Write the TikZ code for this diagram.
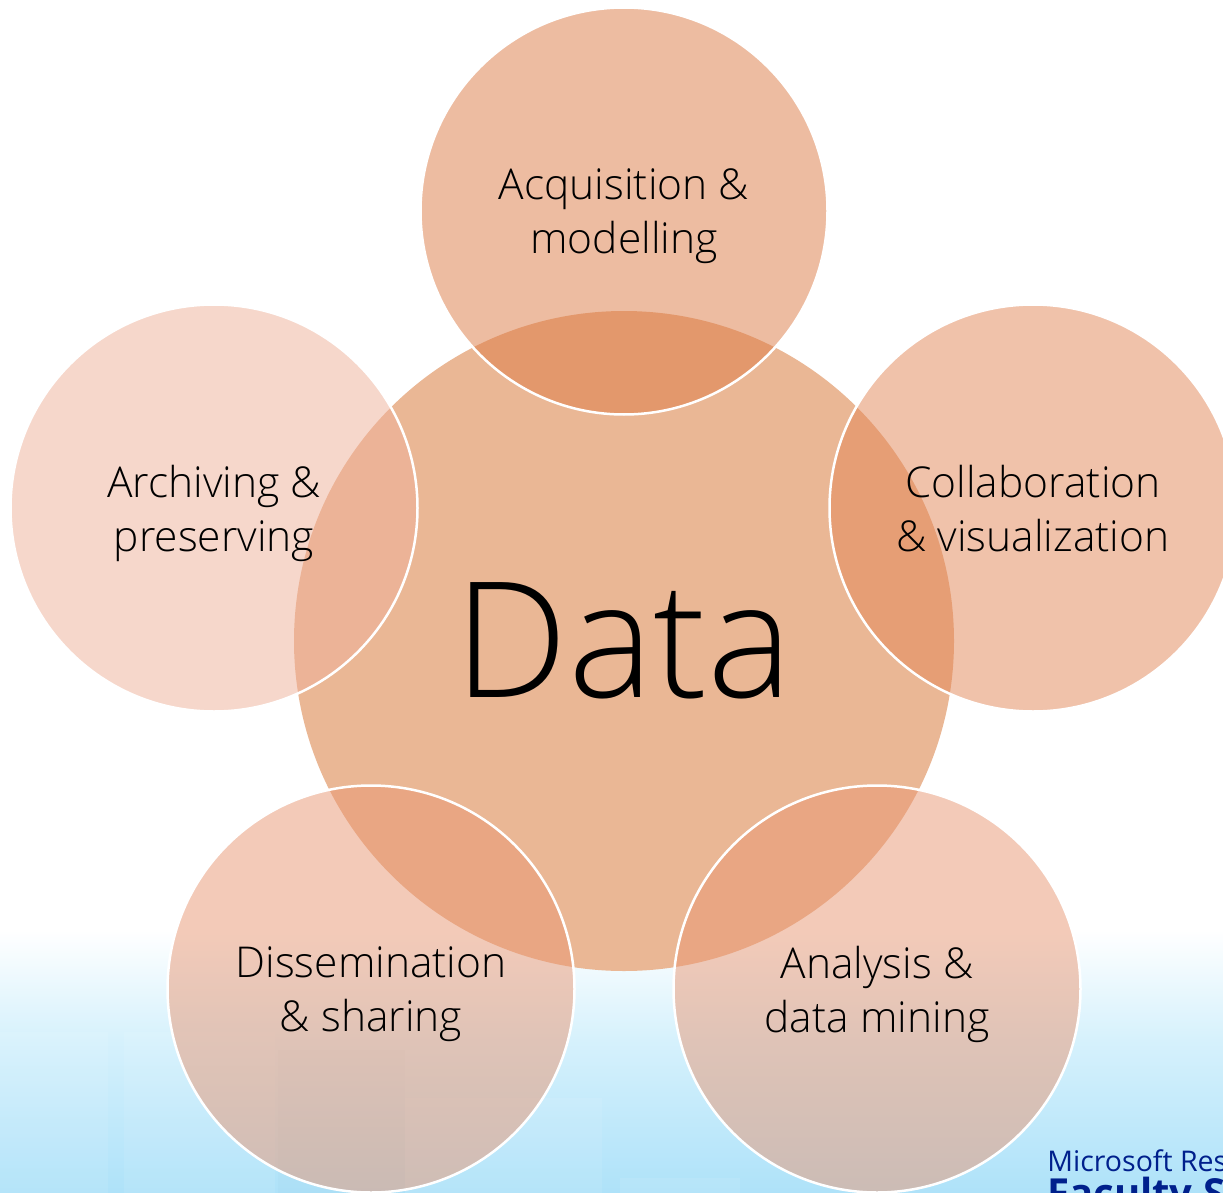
\documentclass[tikz,border=0pt]{standalone}
\usepackage{fontspec}
\setmainfont{Open Sans Light}
\newfontfamily\logofont{Open Sans}
\definecolor{hubfill}{HTML}{EAB795}
\definecolor{acqfill}{RGB}{221,123,69}
\definecolor{colfill}{RGB}{227,135,87}
\definecolor{anafill}{RGB}{233,151,115}
\definecolor{disfill}{RGB}{233,151,115}
\definecolor{arcfill}{RGB}{239,177,153}
\definecolor{logoblue}{HTML}{00208C}
\definecolor{skymid}{HTML}{D6F1FC}
\definecolor{skylow}{HTML}{AEE2F9}
\tikzset{every picture/.style={line width=0.75pt}}
\tikzset{
	petal/.style={circle,draw=white,line width=2.5pt,fill opacity=.5,draw opacity=1,minimum size=407pt,inner sep=0pt,outer sep=0pt},
	petaltext/.style={yshift=-5.5pt,inner sep=0pt,align=center,font=\fontsize{42.5}{54}\selectfont},
	hub/.style={circle,fill=hubfill,minimum size=660pt,inner sep=0pt,outer sep=0pt,font=\fontsize{161}{161}\selectfont},
	tile/.style={fill=white,fill opacity=.08},
	logotext/.style={anchor=base west,inner sep=0pt,text=logoblue,font=\logofont\fontsize{28.5}{30}\selectfont}
}

\begin{document}
\begin{tikzpicture}[x=1pt,y=-1pt,yscale=1,xscale=1]
	\clip (0,0) rectangle (1223,1193);
	\fill[white] (0,0) rectangle (1223,930);
	\shade[top color=white,bottom color=skymid] (0,930) rectangle (1223,1040); %upper sky
	\shade[top color=skymid,bottom color=skylow] (0,1040) rectangle (1223,1193); %lower sky
	\fill[tile] (0,1032) rectangle (108,1193); %faint tiles
	\fill[tile] (124,1032) rectangle (275,1193);
	\fill[black,opacity=.01] (278,1050) rectangle (405,1193);
	\fill[tile] (405,1098) rectangle (602,1193);
	\fill[tile] (620,1178) rectangle (740,1193);
	\node[hub] (data) at (624,641) {Data}; %centre
	\node[petal,fill=acqfill] (acquisition) at (624,211) {};
	\node[petal,fill=colfill] (collaboration) at (1033,508) {};
	\node[petal,fill=anafill] (analysis) at (877,989) {};
	\node[petal,fill=disfill] (dissemination) at (371,989) {};
	\node[petal,fill=arcfill] (archiving) at (214,508) {};
	\node[petaltext] (acquisitiontext) at (acquisition) {Acquisition \&\\modelling}; %labels
	\node[petaltext] (collaborationtext) at (collaboration) {Collaboration\\\& visualization\vphantom{g}};
	\node[petaltext] (analysistext) at (analysis) {Analysis \&\\data mining};
	\node[petaltext] (disseminationtext) at (dissemination) {Dissemination\\\& sharing};
	\node[petaltext] (archivingtext) at (archiving) {Archiving \&\\preserving};
	\node[logotext] (msr) at (1047,1171) {Microsoft Res};
	\node[logotext,font=\logofont\bfseries\fontsize{40}{40}\selectfont] (faculty) at (1047,1207) {Faculty S};
\end{tikzpicture}
\end{document}
